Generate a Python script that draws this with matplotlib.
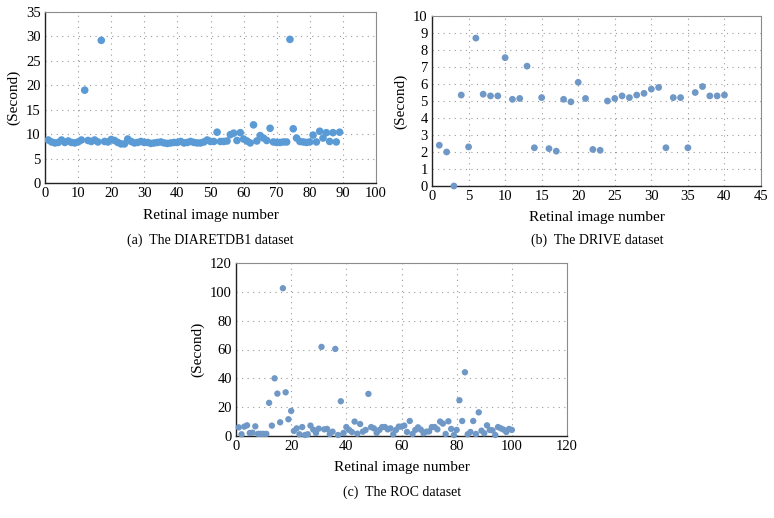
import matplotlib
matplotlib.use("Agg")
import matplotlib.pyplot as plt

plt.rcParams["font.family"] = ["Liberation Serif", "DejaVu Serif"]

# (a) DIARETDB1 dataset: time per image (seconds)
diaret_time = [8.8, 8.4, 8.2, 8.3, 8.8, 8.3, 8.6, 8.3, 8.2, 8.4,
               8.8, 19.0, 8.7, 8.5, 8.8, 8.4, 29.2, 8.5, 8.4, 8.9,
               8.7, 8.3, 8.0, 8.0, 9.0, 8.5, 8.2, 8.3, 8.5, 8.3,
               8.3, 8.1, 8.2, 8.3, 8.4, 8.2, 8.1, 8.2, 8.3, 8.3,
               8.5, 8.2, 8.3, 8.5, 8.3, 8.2, 8.2, 8.4, 8.8, 8.5,
               8.5, 10.4, 8.5, 8.5, 8.6, 9.9, 10.2, 8.7, 10.3, 9.0,
               8.6, 8.2, 11.9, 8.6, 9.7, 9.2, 8.7, 11.2, 8.4, 8.3,
               8.3, 8.4, 8.4, 29.4, 11.1, 9.2, 8.5, 8.4, 8.3, 8.4,
               9.8, 8.4, 10.6, 9.2, 10.3, 8.5, 10.3, 8.4, 10.4]

# (b) DRIVE dataset
drive_time = [2.4, 2.0, 0.0, 5.35, 2.3, 8.7, 5.4, 5.3, 5.3, 7.55,
              5.1, 5.15, 7.05, 2.25, 5.2, 2.2, 2.05, 5.1, 4.95, 6.1,
              5.15, 2.15, 2.1, 5.0, 5.15, 5.3, 5.2, 5.35, 5.45, 5.7,
              5.8, 2.25, 5.2, 5.2, 2.25, 5.5, 5.85, 5.3, 5.3, 5.35]

# (c) ROC dataset
roc_time = [6.0, 1.2, 6.5, 7.4, 2.1, 2.3, 6.7, 1.5, 1.5, 1.5,
            1.5, 23.0, 7.2, 40.0, 29.4, 9.5, 102.5, 30.3, 11.6, 17.4,
            3.5, 5.3, 1.2, 6.2, 0.7, 1.2, 7.2, 4.4, 2.1, 5.1,
            61.8, 4.6, 4.9, 1.4, 3.0, 60.4, 0.7, 24.1, 2.1, 6.2,
            4.2, 2.8, 10.0, 1.6, 8.3, 3.0, 4.2, 29.2, 6.2, 5.3,
            2.1, 4.2, 6.2, 6.2, 4.6, 5.3, 1.2, 4.2, 6.5, 6.5,
            7.2, 2.8, 10.4, 1.4, 4.2, 6.0, 4.4, 1.9, 3.0, 3.2,
            6.2, 6.2, 4.6, 10.0, 8.6, 1.4, 10.2, 4.9, 0.7, 4.2,
            24.8, 10.4, 44.2, 1.2, 2.8, 10.4, 1.4, 16.4, 3.7, 1.9,
            7.4, 4.2, 3.9, 0.7, 6.2, 5.3, 4.4, 2.8, 4.9, 4.2]

W, H = 774, 518


def style_axes(ax, xmax, xstep, ymax, ystep):
    ax.set_xlim(0, xmax)
    ax.set_ylim(0, ymax)
    ax.set_xticks(range(0, xmax + 1, xstep))
    ax.set_yticks(range(0, ymax + 1, ystep))
    ax.tick_params(length=0, labelsize=10.5, pad=3)
    ax.grid(True, linestyle=(0, (1, 4)), color="#9a9a9a", linewidth=0.8)
    ax.set_axisbelow(True)
    for side in ("top", "right"):
        ax.spines[side].set_color("#8c8c8c")
        ax.spines[side].set_linewidth(0.8)
    for side in ("left", "bottom"):
        ax.spines[side].set_color("#222222")
        ax.spines[side].set_linewidth(1.0)
    ax.set_xlabel("Retinal image number", fontsize=11, labelpad=6)
    ax.set_ylabel("(Second)", fontsize=11, labelpad=4)


def add_axes(fig, left, top, right, bottom):
    return fig.add_axes([left / W, 1 - bottom / H, (right - left) / W, (bottom - top) / H])


fig = plt.figure(figsize=(W / 100, H / 100), dpi=100)

ax_a = add_axes(fig, 45, 12, 376, 183)
ax_a.scatter(range(1, len(diaret_time) + 1), diaret_time, s=30, color="#5B9BD5",
             edgecolors="none", zorder=3)
style_axes(ax_a, 100, 10, 35, 5)

ax_b = add_axes(fig, 432, 16, 761, 186)
ax_b.scatter(range(1, len(drive_time) + 1), drive_time, s=24, color="#6F98C6",
             edgecolors="none", zorder=3, clip_on=False)
style_axes(ax_b, 45, 5, 10, 1)

ax_c = add_axes(fig, 236, 263, 567, 436)
ax_c.scatter(range(1, len(roc_time) + 1), roc_time, s=21, color="#6F98C6",
             edgecolors="none", zorder=3, clip_on=False)
style_axes(ax_c, 120, 20, 120, 20)

fig.text(210 / W, 1 - 240 / H, "(a)  The DIARETDB1 dataset", ha="center", va="center", fontsize=10)
fig.text(597 / W, 1 - 240 / H, "(b)  The DRIVE dataset", ha="center", va="center", fontsize=10)
fig.text(402 / W, 1 - 492 / H, "(c)  The ROC dataset", ha="center", va="center", fontsize=10)

fig.savefig("out.png", dpi=100)
